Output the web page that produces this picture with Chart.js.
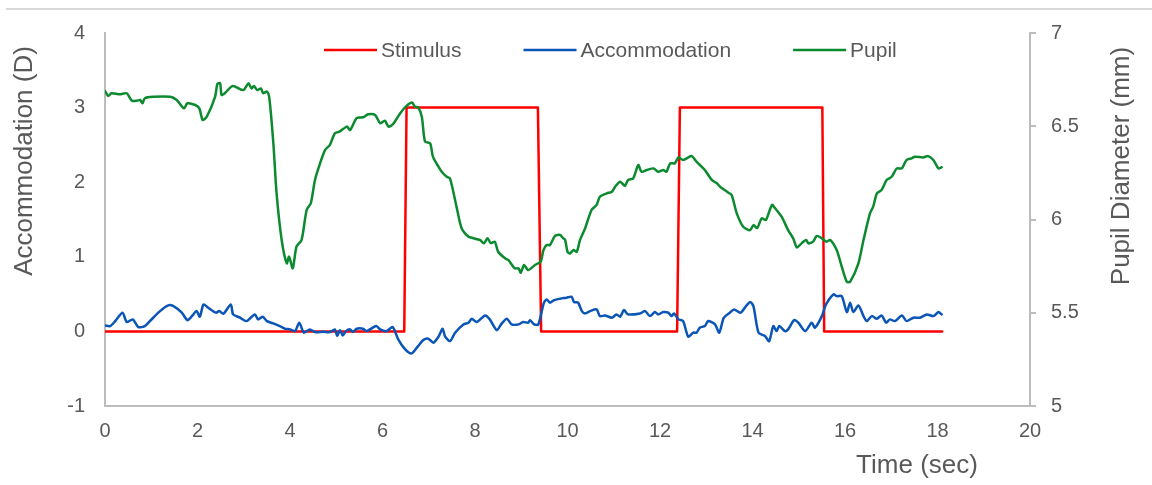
<!DOCTYPE html>
<html>
<head>
<meta charset="utf-8">
<script src="https://cdn.jsdelivr.net/npm/chart.js@4.4.1/dist/chart.umd.min.js"></script>
<style>
  html, body { margin: 0; padding: 0; background: #ffffff; }
  #wrap { position: relative; width: 1152px; height: 485px; overflow: hidden; }
  #topRule { position: absolute; left: 6px; right: 0; top: 8px; height: 2px; background: #d9d9d9; }
  canvas { position: absolute; left: 0; top: 0; }
</style>
</head>
<body>
<div id="wrap">
  <canvas id="chart" width="1152" height="485"></canvas>
  <div id="topRule"></div>
</div>
<script>
// Stimulus demand (D): [time s, value]
const stimulusSeries = [
  [0, 0], [6.47, 0], [6.52, 3], [9.36, 3], [9.43, 0],
  [12.37, 0], [12.43, 3], [15.51, 3], [15.55, 0], [18.1, 0]
];

// Accommodation response (D): [time s, value]
const accommodationSeries = [
  [0.00,0.080],[0.11,0.071],[0.22,0.138],[0.38,0.251],[0.47,0.125],[0.60,0.161],[0.72,0.058],[0.86,0.071],
  [0.97,0.138],[1.19,0.272],[1.37,0.349],[1.48,0.339],[1.66,0.251],[1.78,0.151],[1.87,0.197],[1.98,0.272],
  [2.05,0.197],[2.13,0.362],[2.23,0.318],[2.40,0.251],[2.47,0.272],[2.56,0.237],[2.72,0.362],[2.77,0.228],
  [2.92,0.184],[3.06,0.138],[3.24,0.228],[3.31,0.161],[3.41,0.197],[3.50,0.138],[3.64,0.107],[3.78,0.071],
  [3.89,0.036],[4.00,0.027],[4.11,0.004],[4.20,0.117],[4.30,-0.017],[4.43,0.027],[4.54,-0.009],[4.72,-0.004],
  [4.86,-0.009],[4.97,0.027],[5.02,-0.063],[5.08,0.017],[5.14,-0.054],[5.21,0.004],[5.30,0.027],[5.36,-0.009],
  [5.44,0.036],[5.58,0.036],[5.66,0.004],[5.86,0.071],[5.95,0.027],[6.09,0.004],[6.22,0.058],[6.34,-0.107],
  [6.49,-0.241],[6.63,-0.295],[6.77,-0.197],[6.88,-0.117],[6.99,-0.098],[7.10,-0.151],[7.21,-0.071],[7.30,0.036],
  [7.35,-0.063],[7.46,-0.130],[7.57,-0.017],[7.75,0.094],[7.86,0.117],[7.93,0.170],[8.04,0.125],[8.22,0.214],
  [8.32,0.161],[8.47,0.017],[8.58,0.107],[8.69,0.170],[8.79,0.094],[8.94,0.094],[9.04,0.125],[9.15,0.117],
  [9.19,0.151],[9.28,0.094],[9.37,0.094],[9.49,0.385],[9.55,0.429],[9.62,0.385],[9.71,0.420],[9.84,0.438],
  [9.98,0.452],[10.09,0.465],[10.14,0.393],[10.23,0.385],[10.31,0.272],[10.38,0.241],[10.49,0.272],[10.63,0.295],
  [10.70,0.205],[10.81,0.214],[10.96,0.184],[11.06,0.228],[11.14,0.197],[11.22,0.286],[11.31,0.228],[11.57,0.241],
  [11.68,0.272],[11.78,0.205],[11.89,0.259],[11.96,0.228],[12.07,0.259],[12.18,0.251],[12.25,0.205],[12.30,0.241],
  [12.40,0.161],[12.50,0.138],[12.61,-0.071],[12.72,-0.017],[12.79,-0.017],[12.86,0.050],[12.97,0.071],[13.04,0.138],
  [13.19,0.094],[13.28,-0.017],[13.38,0.184],[13.51,0.251],[13.60,0.295],[13.74,0.251],[13.86,0.339],[13.95,0.393],
  [14.02,0.339],[14.13,-0.017],[14.27,-0.063],[14.36,-0.130],[14.45,0.071],[14.52,0.004],[14.58,0.071],[14.70,0.004],
  [14.77,0.027],[14.90,0.151],[14.99,0.117],[15.14,0.004],[15.28,0.117],[15.35,0.050],[15.50,0.205],[15.59,0.362],
  [15.75,0.496],[15.82,0.473],[15.93,0.473],[16.04,0.259],[16.11,0.385],[16.18,0.259],[16.29,0.349],[16.40,0.205],
  [16.47,0.138],[16.58,0.205],[16.69,0.170],[16.79,0.214],[16.89,0.117],[16.97,0.161],[17.08,0.138],[17.23,0.214],
  [17.33,0.138],[17.48,0.184],[17.62,0.184],[17.77,0.228],[17.91,0.205],[18.02,0.259],[18.09,0.228]
];

// Pupil diameter (mm): [time s, value]
const pupilSeries = [
  [0.00,6.689],[0.07,6.662],[0.14,6.677],[0.32,6.671],[0.47,6.677],[0.58,6.637],[0.69,6.637],[0.76,6.641],
  [0.81,6.623],[0.86,6.650],[1.04,6.658],[1.41,6.658],[1.55,6.641],[1.71,6.596],[1.78,6.623],[1.95,6.614],
  [2.04,6.596],[2.11,6.534],[2.20,6.551],[2.38,6.658],[2.43,6.727],[2.49,6.730],[2.52,6.668],[2.59,6.677],
  [2.76,6.716],[2.99,6.694],[3.10,6.730],[3.17,6.703],[3.22,6.716],[3.29,6.694],[3.37,6.703],[3.42,6.677],
  [3.50,6.686],[3.55,6.658],[3.64,6.409],[3.71,6.140],[3.82,5.890],[3.93,5.765],[3.98,5.801],[4.06,5.738],
  [4.14,5.854],[4.25,5.890],[4.36,6.051],[4.45,6.087],[4.54,6.212],[4.65,6.301],[4.76,6.373],[4.86,6.399],
  [4.97,6.462],[5.07,6.471],[5.23,6.498],[5.30,6.480],[5.44,6.543],[5.58,6.548],[5.69,6.564],[5.84,6.560],
  [5.95,6.516],[6.05,6.530],[6.13,6.498],[6.23,6.512],[6.38,6.569],[6.52,6.609],[6.64,6.627],[6.70,6.605],
  [6.77,6.602],[6.85,6.551],[6.92,6.417],[7.03,6.409],[7.09,6.337],[7.21,6.283],[7.28,6.256],[7.39,6.229],
  [7.46,6.220],[7.60,6.069],[7.71,5.953],[7.86,5.908],[8.11,5.890],[8.19,5.872],[8.27,5.899],[8.34,5.874],
  [8.43,5.881],[8.50,5.827],[8.65,5.792],[8.72,5.783],[8.86,5.738],[8.94,5.738],[8.99,5.715],[9.06,5.756],
  [9.15,5.729],[9.30,5.756],[9.42,5.774],[9.48,5.836],[9.55,5.863],[9.62,5.863],[9.73,5.912],[9.84,5.917],
  [9.91,5.899],[9.95,5.890],[10.00,5.827],[10.05,5.818],[10.13,5.836],[10.20,5.827],[10.27,5.890],[10.38,5.952],
  [10.52,6.051],[10.63,6.078],[10.70,6.122],[10.85,6.140],[10.96,6.149],[11.03,6.176],[11.14,6.203],[11.24,6.180],
  [11.31,6.212],[11.42,6.220],[11.53,6.292],[11.60,6.256],[11.71,6.265],[11.86,6.274],[11.96,6.256],[12.07,6.265],
  [12.14,6.256],[12.22,6.301],[12.32,6.301],[12.40,6.333],[12.50,6.319],[12.68,6.340],[12.79,6.310],[12.90,6.283],
  [12.97,6.265],[13.12,6.212],[13.23,6.194],[13.30,6.176],[13.48,6.144],[13.55,6.131],[13.66,6.033],[13.80,5.961],
  [13.95,5.943],[14.02,5.970],[14.10,5.954],[14.20,6.006],[14.29,5.997],[14.42,6.078],[14.49,6.060],[14.63,6.015],
  [14.77,5.943],[14.88,5.899],[14.96,5.850],[15.06,5.872],[15.16,5.890],[15.21,5.872],[15.31,5.881],[15.39,5.912],
  [15.50,5.899],[15.60,5.881],[15.68,5.890],[15.82,5.836],[15.93,5.747],[16.04,5.666],[16.11,5.666],[16.29,5.765],
  [16.40,5.890],[16.54,6.033],[16.61,6.069],[16.69,6.140],[16.79,6.158],[16.90,6.212],[17.01,6.229],[17.12,6.274],
  [17.23,6.274],[17.33,6.319],[17.44,6.328],[17.51,6.337],[17.69,6.333],[17.80,6.340],[17.91,6.319],[18.02,6.274],
  [18.09,6.280]
];

const seriesNames = ['Stimulus', 'Accommodation', 'Pupil'];
const seriesColors = ['#ff0000', '#0a55b5', '#0c8a2f'];

const xTitle = 'Time (sec)';
const yLeftTitle = 'Accommodation (D)';
const yRightTitle = 'Pupil Diameter (mm)';

const TEXT = '#595959';
const AXIS = '#bcbcbc';
const FONT = '"Liberation Sans", Arial, sans-serif';

const toPoints = s => s.map(([x, y]) => ({ x, y }));

// Legend row inside the plot area
const legendPlugin = {
  id: 'insideLegend',
  afterDraw(chart) {
    const { ctx, chartArea } = chart;
    ctx.save();
    ctx.font = '21px ' + FONT;
    ctx.textBaseline = 'middle';
    const y = chartArea.top + 17;
    let x = chartArea.left + 219;
    seriesNames.forEach((name, i) => {
      ctx.strokeStyle = seriesColors[i];
      ctx.lineWidth = 2.5;
      ctx.beginPath();
      ctx.moveTo(x, y);
      ctx.lineTo(x + 53, y);
      ctx.stroke();
      ctx.fillStyle = TEXT;
      ctx.textAlign = 'left';
      ctx.fillText(name, x + 57, y + 1);
      x += 57 + ctx.measureText(name).width + 62;
    });
    ctx.restore();
  }
};

// Axis titles
const titlePlugin = {
  id: 'axisTitles',
  afterDraw(chart) {
    const { ctx, chartArea } = chart;
    ctx.save();
    ctx.fillStyle = TEXT;
    ctx.font = '26px ' + FONT;
    ctx.textAlign = 'center';
    ctx.textBaseline = 'middle';
    ctx.fillText(xTitle, chartArea.right - 113, chartArea.bottom + 60);
    ctx.save();
    ctx.translate(chartArea.left - 80, chartArea.top + 128);
    ctx.rotate(-Math.PI / 2);
    ctx.fillText(yLeftTitle, 0, 0);
    ctx.restore();
    ctx.save();
    ctx.translate(chartArea.right + 92, chartArea.top + 133);
    ctx.rotate(-Math.PI / 2);
    ctx.fillText(yRightTitle, 0, 0);
    ctx.restore();
    ctx.restore();
  }
};

new Chart(document.getElementById('chart'), {
  type: 'line',
  data: {
    datasets: [
      { label: seriesNames[0], data: toPoints(stimulusSeries), yAxisID: 'y',
        borderColor: seriesColors[0], borderWidth: 2.5, tension: 0, order: 3 },
      { label: seriesNames[1], data: toPoints(accommodationSeries), yAxisID: 'y',
        borderColor: seriesColors[1], borderWidth: 2.5, tension: 0.25, order: 2 },
      { label: seriesNames[2], data: toPoints(pupilSeries), yAxisID: 'y1',
        borderColor: seriesColors[2], borderWidth: 2.5, tension: 0.25, order: 1 }
    ]
  },
  options: {
    responsive: false,
    animation: false,
    parsing: true,
    elements: {
      point: { radius: 0 },
      line: { fill: false, borderJoinStyle: 'round', borderCapStyle: 'round' }
    },
    layout: { padding: { top: 33, left: 0, right: 0, bottom: 0 } },
    plugins: { legend: { display: false }, tooltip: { enabled: false } },
    scales: {
      x: {
        type: 'linear', min: 0, max: 20,
        afterFit(s) { s.height = 79; },
        grid: { display: false, drawTicks: false },
        border: { display: true, color: AXIS, width: 2 },
        ticks: { stepSize: 2, color: TEXT, font: { size: 20, family: FONT }, padding: 13, maxRotation: 0 }
      },
      y: {
        type: 'linear', position: 'left', min: -1, max: 4,
        afterFit(s) { s.width = 105; },
        grid: { display: false, drawTicks: false },
        border: { display: true, color: AXIS, width: 2 },
        ticks: { stepSize: 1, color: TEXT, font: { size: 20, family: FONT }, padding: 20 }
      },
      y1: {
        type: 'linear', position: 'right', min: 5, max: 7,
        afterFit(s) { s.width = 122; },
        grid: { drawOnChartArea: false, drawTicks: true, tickLength: 6, color: AXIS, lineWidth: 2 },
        border: { display: true, color: AXIS, width: 2 },
        ticks: { stepSize: 0.5, color: TEXT, font: { size: 20, family: FONT }, padding: 15,
                 callback: v => String(v) }
      }
    }
  },
  plugins: [legendPlugin, titlePlugin]
});
</script>
</body>
</html>
